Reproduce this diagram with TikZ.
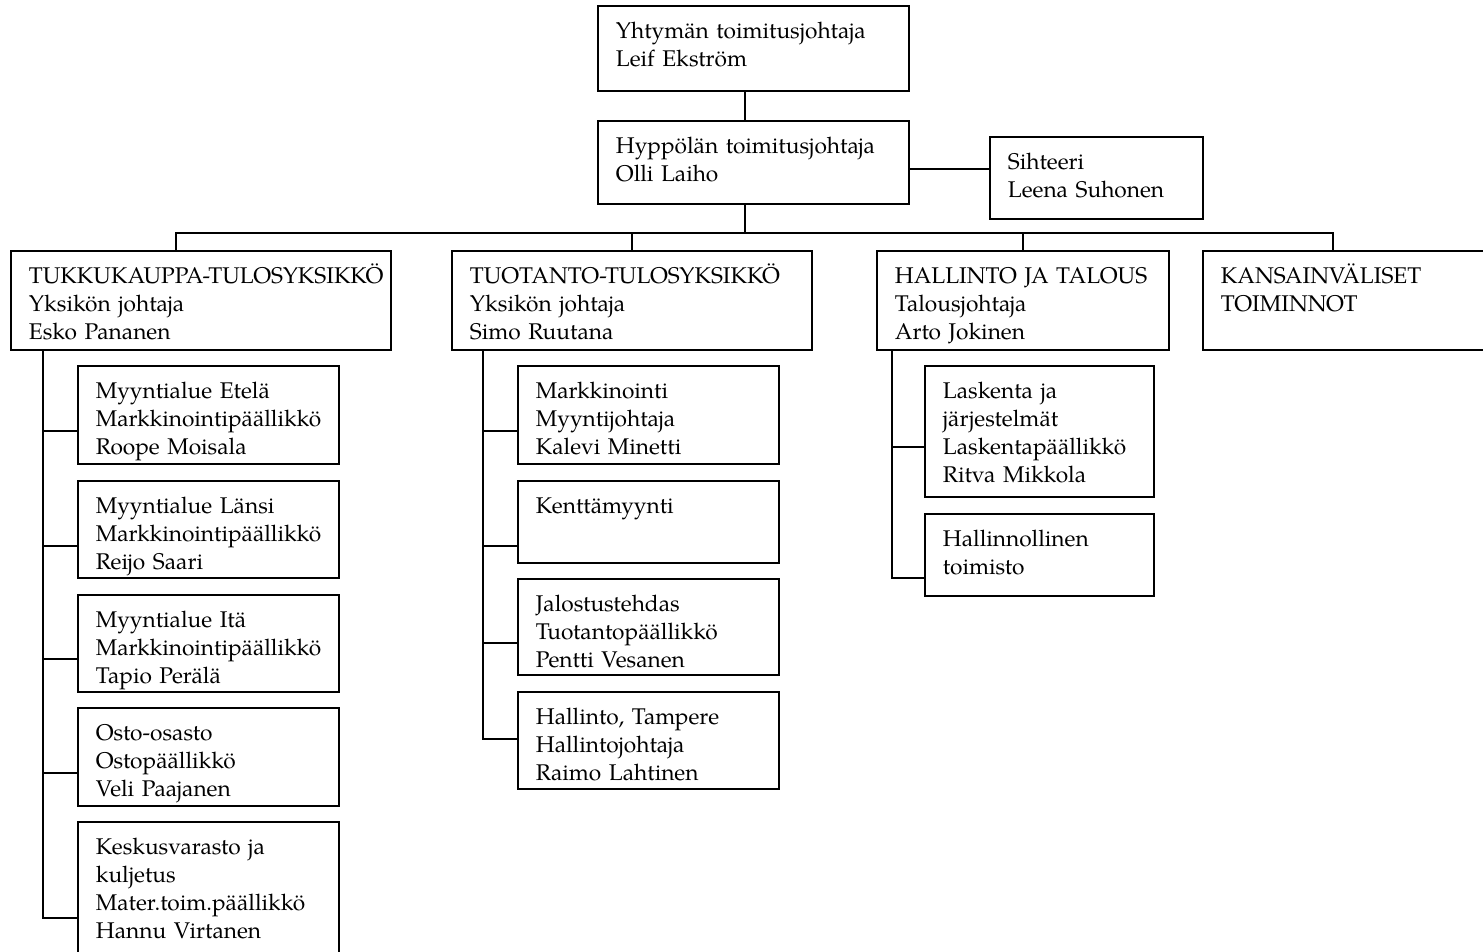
\documentclass[tikz,border=0pt]{standalone}
\usepackage{fontspec}
\setmainfont{TeX Gyre Pagella}
\usepackage{tikz}
\usetikzlibrary{positioning}
\newcommand{\orgfont}{\fontsize{22.7}{28}\selectfont\hyphenpenalty=10000\exhyphenpenalty=10000}
\tikzstyle{line} = [draw, line width=1.8pt]
\tikzset{unit/.style 2 args={draw, line width=1.8pt, anchor=north west, align=left,
    inner xsep=18pt, inner ysep=0pt, text width=#1-36, text height=33pt, text depth=#2-33,
    font=\orgfont}}

\begin{document}
\begin{tikzpicture}[x=1pt, y=-1pt]
	\useasboundingbox (0,0) rectangle (1483,952);

	% johto
	\node [unit={311}{85}] (ceo) at (597,5) {Yhtymän toimitusjohtaja\\Leif Ekström};
	\node [unit={311}{83}] (md) at (597,120) {Hyppölän toimitusjohtaja\\Olli Laiho};
	\node [unit={213}{82}] (secr) at (989,136) {Sihteeri\\Leena Suhonen};

	% tulosyksiköt
	\node [unit={380}{99}] (ws) at (10,250) {TUKKUKAUPPA-TULOSYKSIKKÖ\\Yksikön johtaja\\Esko Pananen};
	\node [unit={360}{99}] (prod) at (451,250) {TUOTANTO-TULOSYKSIKKÖ\\Yksikön johtaja\\Simo Ruutana};
	\node [unit={292}{99}] (admin) at (876,250) {HALLINTO JA TALOUS\\Talousjohtaja\\Arto Jokinen};
	\node [unit={300}{99}] (intl) at (1202,250) {KANSAINVÄLISET\\TOIMINNOT};

	% tukkukauppa
	\node [unit={261}{98}] (s1) at (77,365) {Myyntialue Etelä\\Markkinointipäällikkö\\Roope Moisala};
	\node [unit={261}{97}] (s2) at (77,480) {Myyntialue Länsi\\Markkinointipäällikkö\\Reijo Saari};
	\node [unit={261}{97}] (s3) at (77,594) {Myyntialue Itä\\Markkinointipäällikkö\\Tapio Perälä};
	\node [unit={261}{98}] (s4) at (77,707) {Osto-osasto\\Ostopäällikkö\\Veli Paajanen};
	\node [unit={261}{140}] (s5) at (77,821) {Keskusvarasto ja\\kuljetus\\Mater.toim.päällikkö\\Hannu Virtanen};

	% tuotanto
	\node [unit={261}{98}] (p1) at (517,365) {Markkinointi\\Myyntijohtaja\\Kalevi Minetti};
	\node [unit={261}{82}] (p2) at (517,480) {Kenttämyynti};
	\node [unit={261}{96}] (p3) at (517,578) {Jalostustehdas\\Tuotantopäällikkö\\Pentti Vesanen};
	\node [unit={261}{97}] (p4) at (517,691) {Hallinto, Tampere\\Hallintojohtaja\\Raimo Lahtinen};

	% hallinto ja talous
	\node [unit={229}{131}] (a1) at (924,365) {Laskenta ja\\järjestelmät\\Laskentapäällikkö\\Ritva Mikkola};
	\node [unit={229}{82}] (a2) at (924,513) {Hallinnollinen\\toimisto};

	\coordinate (trunk) at (745,233);
	\coordinate (wsbus) at ([xshift=-34]s1.north west);
	\coordinate (prodbus) at ([xshift=-34]p1.north west);
	\coordinate (admbus) at ([xshift=-32]a1.north west);

	\path [line] (ceo.south -| trunk) -- (md.north -| trunk);
	\path [line] ([yshift=-7]md.east) -- ([yshift=-7]md.east -| secr.west);
	\path [line] (md.south -| trunk) -- (trunk);
	\path [line] ([xshift=-25]ws.north) |- (trunk) -| ([xshift=131]intl.north west);
	\path [line] (prod.north) -- (prod.north |- trunk);
	\path [line] (admin.north) -- (admin.north |- trunk);

	\path [line] (ws.south -| wsbus) |- ([yshift=-97]s5.north west);
	\path [line] ([yshift=-66]s1.north west) -- +(-34,0);
	\path [line] ([yshift=-66]s2.north west) -- +(-34,0);
	\path [line] ([yshift=-65]s3.north west) -- +(-34,0);
	\path [line] ([yshift=-66]s4.north west) -- +(-34,0);

	\path [line] (prod.south -| prodbus) |- ([yshift=-48]p4.north west);
	\path [line] ([yshift=-66]p1.north west) -- +(-34,0);
	\path [line] ([yshift=-66]p2.north west) -- +(-34,0);
	\path [line] ([yshift=-65]p3.north west) -- +(-34,0);

	\path [line] (admin.south -| admbus) |- ([yshift=-65]a2.north west);
	\path [line] ([yshift=-82]a1.north west) -- +(-32,0);
\end{tikzpicture}
\end{document}
